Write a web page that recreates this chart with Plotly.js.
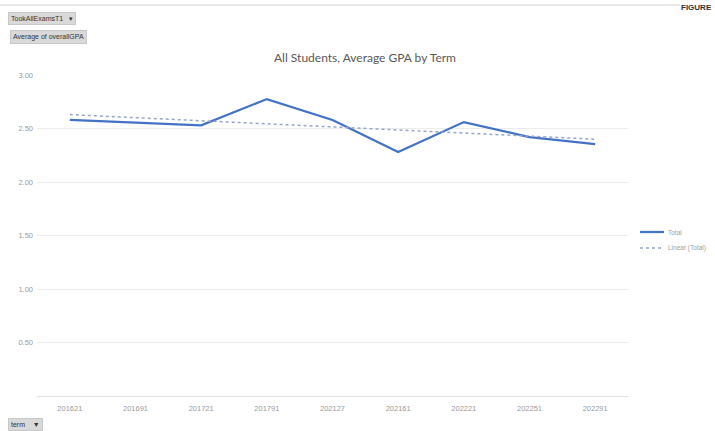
<!DOCTYPE html>
<html>
<head>
<meta charset="utf-8">
<script src="https://cdn.plot.ly/plotly-3.0.1.min.js"></script>
<style>html,body{margin:0;padding:0;background:#fff;}#chart{width:715px;height:431px;}</style>
</head>
<body>
<div id="chart"></div>
<script>
// Data
const terms = ["201621", "201691", "201721", "201791", "202127", "202161", "202221", "202251", "202291"];
const avgGPA = [2.58, 2.555, 2.53, 2.775, 2.58, 2.28, 2.56, 2.42, 2.355];
const trendTerms = ["201621", "202291"];
const trendValues = [2.63, 2.40];
const yTickVals = [0.5, 1.0, 1.5, 2.0, 2.5, 3.0];
const yTickText = ["0.50", "1.00", "1.50", "2.00", "2.50", "3.00"];
const legendNames = ["Total", "Linear (Total)"];

const W = 715, H = 431, L = 37, R = 87, T = 75, B = 35;
const pw = W - L - R, ph = H - T - B;
const px = x => (x - L) / pw;
const py = y => (H - B - y) / ph;

const lineColor = '#4472C4', trendColor = '#95A6CC';
const traces = [
  {x: terms, y: avgGPA, type: 'scatter', mode: 'lines', name: legendNames[0],
   line: {color: lineColor, width: 2.25}},
  {x: trendTerms, y: trendValues, type: 'scatter', mode: 'lines', name: legendNames[1],
   line: {color: trendColor, width: 1.5, dash: 'dot'}}
];

const btnFont = {family: 'Liberation Sans, Arial, sans-serif', size: 7, color: '#333'};
const legFont = {family: 'Liberation Sans, Arial, sans-serif', size: 6.5, color: '#a0a0a0'};
const layout = {
  width: W, height: H,
  margin: {l: L, r: R, t: T, b: B, pad: 0, autoexpand: false},
  paper_bgcolor: '#fff', plot_bgcolor: '#fff',
  font: {family: 'Liberation Sans, Arial, sans-serif', color: '#999'},
  title: {text: 'All Students, Average GPA by Term', x: 365 / W, xanchor: 'center',
          y: 1 - 58 / H, yanchor: 'middle', yref: 'container',
          font: {family: 'Lato, Open Sans, sans-serif', size: 12, color: '#595959'}},
  xaxis: {type: 'category', range: [-0.5, 8.5], showgrid: false, zeroline: false,
          showline: true, linecolor: '#e0e0e0', linewidth: 1, ticks: '',
          tickfont: {size: 7.5, color: '#9a9a9a'}, ticklabelstandoff: 5, fixedrange: true},
  yaxis: {range: [0, 3], tickvals: yTickVals, ticktext: yTickText, showgrid: true,
          gridcolor: '#ececec', gridwidth: 1, zeroline: false, showline: false, ticks: '',
          tickfont: {size: 7.5, color: '#9a9a9a'}, ticklabelstandoff: 3, fixedrange: true},
  showlegend: false,
  shapes: [
    {type: 'line', xref: 'paper', yref: 'paper', x0: px(0), x1: px(680), y0: py(5), y1: py(5),
     line: {color: '#d4d4d4', width: 1}},
    {type: 'line', xref: 'paper', yref: 'paper', x0: px(640), x1: px(664), y0: py(232), y1: py(232),
     line: {color: lineColor, width: 2.25}},
    {type: 'line', xref: 'paper', yref: 'paper', x0: px(640), x1: px(664), y0: py(248), y1: py(248),
     line: {color: trendColor, width: 1.5, dash: 'dot'}}
  ],
  annotations: [
    {text: legendNames[0], xref: 'paper', yref: 'paper', x: px(666), xanchor: 'left',
     y: py(232), yanchor: 'middle', showarrow: false, font: legFont},
    {text: legendNames[1], xref: 'paper', yref: 'paper', x: px(666), xanchor: 'left',
     y: py(248), yanchor: 'middle', showarrow: false, font: legFont},
    {text: 'TookAllExamsT1   \u25BE', xref: 'paper', yref: 'paper', x: px(8), xanchor: 'left',
     y: py(18), yanchor: 'middle', showarrow: false, font: btnFont, bgcolor: '#d9d9d9',
     bordercolor: '#c8c8c8', borderwidth: 1, borderpad: 2},
    {text: 'Average of overallGPA', xref: 'paper', yref: 'paper', x: px(10), xanchor: 'left',
     y: py(36.5), yanchor: 'middle', showarrow: false, font: btnFont, bgcolor: '#d9d9d9',
     bordercolor: '#c8c8c8', borderwidth: 1, borderpad: 2},
    {text: 'term    \u25BC', xref: 'paper', yref: 'paper', x: px(8), xanchor: 'left',
     y: py(424), yanchor: 'middle', showarrow: false, font: btnFont, bgcolor: '#d9d9d9',
     bordercolor: '#c8c8c8', borderwidth: 1, borderpad: 2},
    {text: '<b>FIGURE</b>', xref: 'paper', yref: 'paper', x: px(714), xanchor: 'right',
     y: py(1), yanchor: 'top', showarrow: false,
     font: {family: 'Liberation Sans, Arial, sans-serif', size: 8, color: '#333'}}
  ]
};

Plotly.newPlot('chart', traces, layout, {displayModeBar: false, staticPlot: true});
</script>
</body>
</html>
